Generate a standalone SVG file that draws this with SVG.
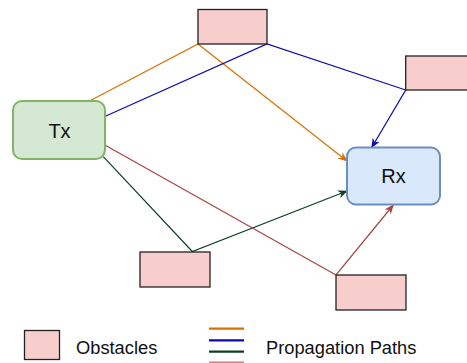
<svg xmlns="http://www.w3.org/2000/svg" width="467" height="363" viewBox="0 0 467 363">
<style>
.obs{fill:#f8cecc;stroke:#222;stroke-width:1.3}
.lbl{font-family:"Liberation Sans",Arial,sans-serif;fill:#111}
.path{fill:none;stroke-width:1.2}
.leg{stroke-width:2.2}
</style>
<defs>
<marker id="aO" viewBox="0 0 10 10" refX="9" refY="5" markerWidth="10" markerHeight="10" markerUnits="userSpaceOnUse" orient="auto"><path d="M0,1 L10,5 L0,9 L3,5 Z" fill="#d97000"/></marker>
<marker id="aB" viewBox="0 0 10 10" refX="9" refY="5" markerWidth="10" markerHeight="10" markerUnits="userSpaceOnUse" orient="auto"><path d="M0,1 L10,5 L0,9 L3,5 Z" fill="#0a0ab0"/></marker>
<marker id="aG" viewBox="0 0 10 10" refX="9" refY="5" markerWidth="10" markerHeight="10" markerUnits="userSpaceOnUse" orient="auto"><path d="M0,1 L10,5 L0,9 L3,5 Z" fill="#0b4020"/></marker>
<marker id="aR" viewBox="0 0 10 10" refX="9" refY="5" markerWidth="10" markerHeight="10" markerUnits="userSpaceOnUse" orient="auto"><path d="M0,1 L10,5 L0,9 L3,5 Z" fill="#a84444"/></marker>
</defs>
<g id="connectors">
<polyline class="path" stroke="#d97000" points="90,100.7 198,44 347,161" marker-end="url(#aO)"/>
<polyline class="path" stroke="#0a0ab0" points="105.3,116.3 267,44 405.7,90 371.7,147.5" marker-end="url(#aB)"/>
<polyline class="path" stroke="#0b4020" points="103.3,156.7 192.3,251.5 347,191" marker-end="url(#aG)"/>
<polyline class="path" stroke="#a84444" points="105.3,145.3 336,275 393.3,205" marker-end="url(#aR)"/>
</g>
<g id="obstacle-top"><rect class="obs" x="198" y="9.5" width="69" height="34.5"/></g>
<g id="obstacle-right"><rect class="obs" x="405.7" y="56" width="70" height="34"/></g>
<g id="obstacle-bottom-left"><rect class="obs" x="140" y="252" width="70" height="35"/></g>
<g id="obstacle-bottom-right"><rect class="obs" x="336" y="275" width="70" height="35"/></g>
<g id="tx"><rect x="13" y="101" width="92" height="58" rx="9" fill="#d5e8d4" stroke="#82b366" stroke-width="2"/><text class="lbl" x="59.5" y="137.5" font-size="20" text-anchor="middle">Tx</text></g>
<g id="rx"><rect x="347" y="147.5" width="93" height="57" rx="9" fill="#dae8fc" stroke="#6c8ebf" stroke-width="2"/><text class="lbl" x="393.5" y="182.7" font-size="20" text-anchor="middle">Rx</text></g>
<g id="legend">
<rect class="obs" x="24.5" y="330.5" width="35" height="29"/>
<text class="lbl" x="76" y="353.5" font-size="18.3">Obstacles</text>
<line class="leg" x1="209" y1="328.7" x2="244" y2="328.7" stroke="#d97000"/>
<line class="leg" x1="209" y1="340.3" x2="244" y2="340.3" stroke="#0a0ab0"/>
<line class="leg" x1="209" y1="351.7" x2="244" y2="351.7" stroke="#0b4020"/>
<line class="leg" x1="209" y1="362.7" x2="244" y2="362.7" stroke="#c88080"/>
<text class="lbl" x="266" y="353.5" font-size="18.3">Propagation Paths</text>
</g>
</svg>
